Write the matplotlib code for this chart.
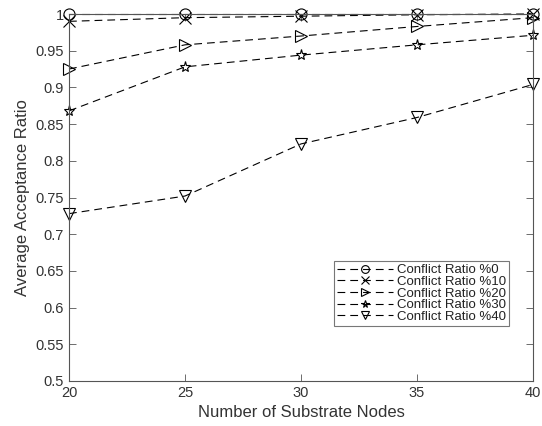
import numpy as np
import matplotlib
matplotlib.use('Agg')
import matplotlib.pyplot as plt

plt.rcParams['font.family'] = ['Liberation Sans', 'DejaVu Sans']

# datos
nodes = [20, 25, 30, 35, 40]
r0 = [1.0, 1.0, 1.0, 1.0, 1.0]
r10 = [0.990, 0.995, 0.997, 0.999, 1.0]
r20 = [0.925, 0.958, 0.970, 0.983, 0.995]
r30 = [0.868, 0.928, 0.944, 0.958, 0.971]
r40 = [0.728, 0.752, 0.823, 0.859, 0.904]
labels = ['Conflict Ratio %0', 'Conflict Ratio %10', 'Conflict Ratio %20',
          'Conflict Ratio %30', 'Conflict Ratio %40']
markers = ['o', 'x', '>', '*', 'v']

fig = plt.figure(figsize=(5.42, 4.26), dpi=100)
ax = fig.add_axes([69/542, 1-381/426, (533-69)/542, (381-14)/426])

for y, lab, mk in zip([r0, r10, r20, r30, r40], labels, markers):
    ax.plot(nodes, y, color='black', linestyle=(0, (7, 4.5)), linewidth=0.8,
            marker=mk, markersize=8, markerfacecolor='none',
            markeredgecolor='black', markeredgewidth=0.8, label=lab, clip_on=False)

ax.set_xlim(20, 40)
ax.set_ylim(0.5, 1.0)
ax.set_xticks([20, 25, 30, 35, 40])
ax.set_yticks(np.arange(0.5, 1.0001, 0.05))
ax.set_yticklabels(['0.5', '0.55', '0.6', '0.65', '0.7', '0.75', '0.8', '0.85',
                    '0.9', '0.95', '1'])
grey = '#555555'
for s in ax.spines.values():
    s.set_color(grey)
    s.set_linewidth(0.8)
ax.tick_params(direction='in', top=True, right=True, colors=grey,
               labelcolor='#333333', labelsize=10.5, length=5, width=0.6)
ax.set_xlabel('Number of Substrate Nodes', fontsize=12, color='#333333')
ax.set_ylabel('Average Acceptance Ratio', fontsize=12, color='#333333')

leg = ax.legend(loc='lower right', bbox_to_anchor=(509/542, 1-326/426),
                bbox_transform=fig.transFigure, fontsize=9.5, frameon=True,
                fancybox=False, edgecolor=grey, handlelength=4.2,
                markerscale=0.7, borderpad=0.25, labelspacing=-0.05,
                handletextpad=0.3, borderaxespad=0)
leg.get_frame().set_linewidth(0.8)
for t in leg.get_texts():
    t.set_color('#222222')

fig.savefig('out.png', dpi=100)
